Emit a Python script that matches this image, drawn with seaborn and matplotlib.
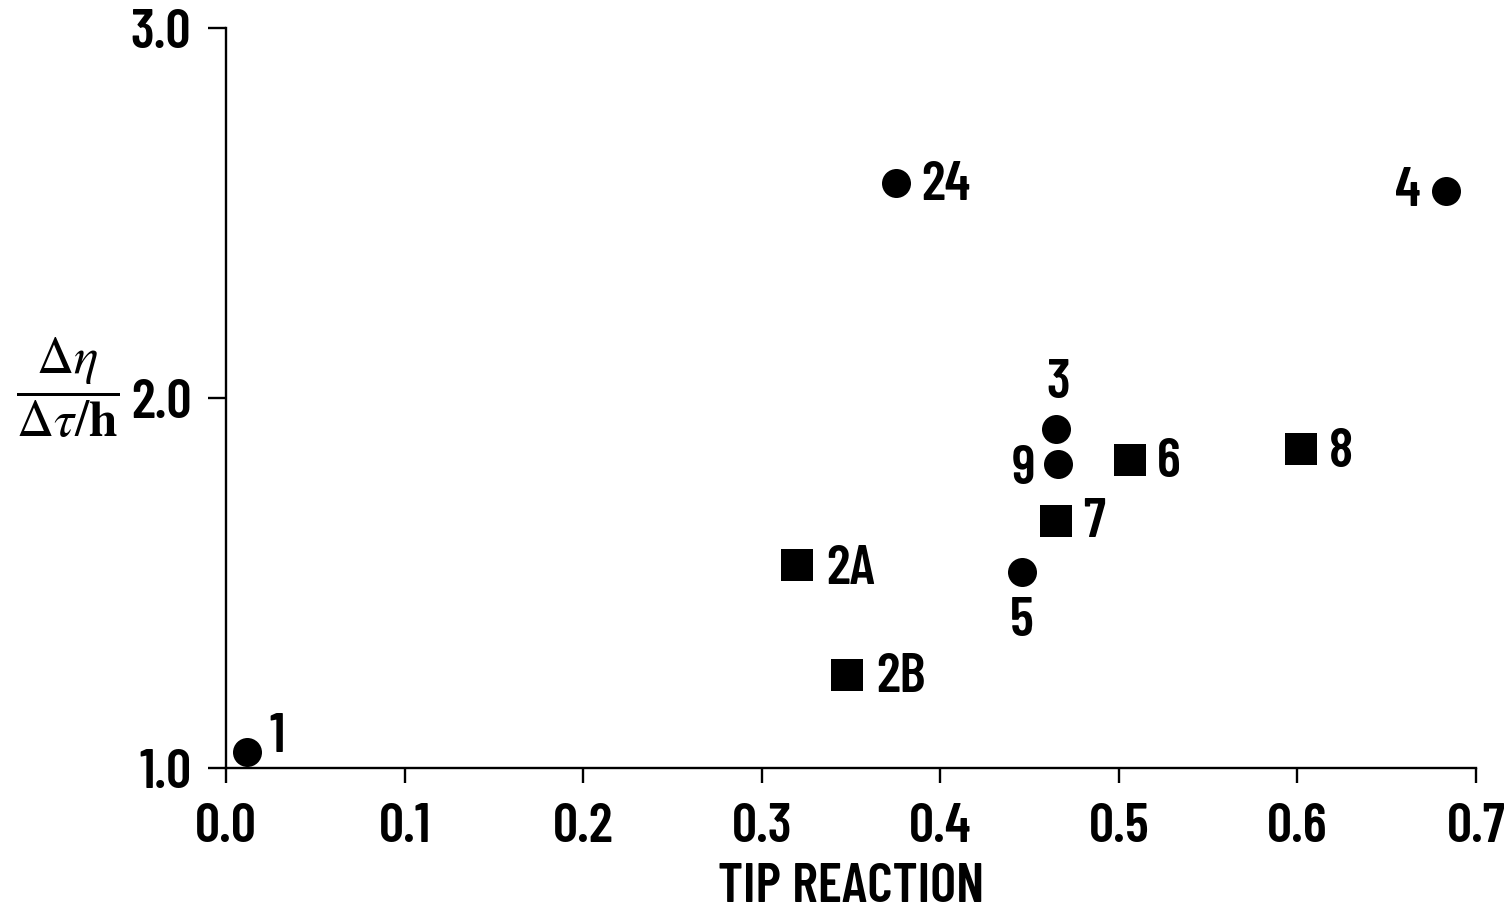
import matplotlib
matplotlib.use("Agg")
import matplotlib.pyplot as plt
import seaborn as sns
import pandas as pd

# Rotor test cases: tip reaction vs. normalised efficiency gradient
labels = ["1", "24", "4", "3", "9", "6", "8", "7", "2A", "5", "2B"]
tip_reaction = [0.012, 0.375, 0.683, 0.465, 0.466, 0.506, 0.602, 0.465, 0.320, 0.446, 0.348]
eff_ratio = [1.043, 2.581, 2.559, 1.915, 1.822, 1.832, 1.862, 1.668, 1.549, 1.530, 1.251]
shape = ["circle", "circle", "circle", "circle", "circle", "square",
         "square", "square", "square", "circle", "square"]

x_ticks = [0.0, 0.1, 0.2, 0.3, 0.4, 0.5, 0.6, 0.7]
y_ticks = [1.0, 2.0, 3.0]

df = pd.DataFrame({"x": tip_reaction, "y": eff_ratio, "shape": shape, "label": labels})

sns.set_theme(style="ticks")
plt.rcParams["font.family"] = ["Barlow Condensed", "Roboto Condensed", "DejaVu Sans"]
plt.rcParams["mathtext.fontset"] = "stix"

W, H = 1511, 914
fig = plt.figure(figsize=(W / 100, H / 100), dpi=100)
ax = fig.add_axes([226 / W, (H - 768) / H, (1476 - 226) / W, (768 - 28) / H])

PX = 72 / 100  # points per pixel

sns.scatterplot(data=df[df["shape"] == "circle"], x="x", y="y", ax=ax,
                marker="o", s=(29 * PX) ** 2, color="black", linewidth=0,
                clip_on=False, legend=False, zorder=3)
sns.scatterplot(data=df[df["shape"] == "square"], x="x", y="y", ax=ax,
                marker="s", s=(32 * PX) ** 2, color="black", linewidth=0,
                clip_on=False, legend=False, zorder=3)

# label placement around each marker (pixel offsets, alignment)
placement = {
    "1": (22, 15, "left", "center"),
    "24": (26, -2, "left", "center"),
    "4": (-25, 0, "right", "center"),
    "3": (2, 46, "center", "center"),
    "9": (-23, -6, "right", "center"),
    "6": (27, -2, "left", "center"),
    "8": (28, -3, "left", "center"),
    "7": (27, -2, "left", "center"),
    "2A": (29, -5, "left", "center"),
    "5": (-1, -50, "center", "center"),
    "2B": (29, -2, "left", "center"),
}
label_size = 40
weight = 600
for lab, xv, yv in zip(labels, tip_reaction, eff_ratio):
    dx, dy, ha, va = placement[lab]
    ax.annotate(lab, (xv, yv), xytext=(dx * PX, dy * PX), textcoords="offset points",
                ha=ha, va=va, fontsize=label_size, fontweight=weight, color="black")

ax.set_xlim(0, 0.7)
ax.set_ylim(1.0, 3.0)
ax.set_xticks(x_ticks)
ax.set_yticks(y_ticks)
ax.set_xticklabels([f"{v:.1f}" for v in x_ticks])
ax.set_yticklabels([f"{v:.1f}" for v in y_ticks])

sns.despine(ax=ax)
for side in ("left", "bottom"):
    ax.spines[side].set_linewidth(1.7)
    ax.spines[side].set_color("black")
ax.tick_params(axis="y", length=13, width=1.7, pad=12, labelsize=label_size, colors="black")
ax.tick_params(axis="x", length=11, width=1.7, pad=14, labelsize=label_size, colors="black")
for t in ax.get_xticklabels() + ax.get_yticklabels():
    t.set_fontweight(weight)

ax.set_xlabel("TIP REACTION", fontsize=label_size, fontweight=weight, labelpad=8, color="black")
ax.set_ylabel("")

fig.text(68 / W, 1 - 388 / H, r"$\dfrac{\Delta\eta}{\Delta\tau/\mathbf{h}}$",
         fontsize=37, fontweight="normal", ha="center", va="center", color="black")

fig.savefig("out.png", dpi=100, facecolor="white")
